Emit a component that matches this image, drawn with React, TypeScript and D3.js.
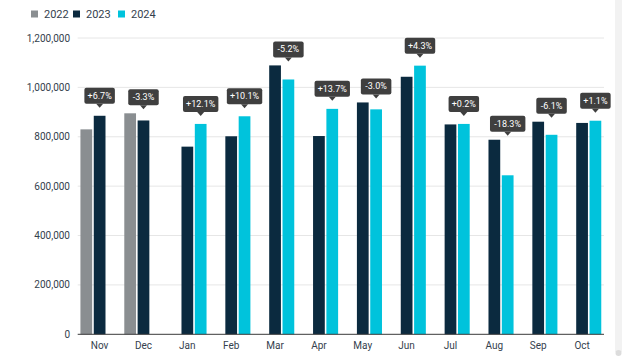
import React from "react";
import * as d3 from "d3";

const months = ["Nov", "Dec", "Jan", "Feb", "Mar", "Apr", "May", "Jun", "Jul", "Aug", "Sep", "Oct"];
const seriesNames = ["2022", "2023", "2024"];
const values2022: (number | null)[] = [830000, 895000, null, null, null, null, null, null, null, null, null, null];
const values2023: (number | null)[] = [885000, 866000, 760000, 802000, 1089000, 803000, 939000, 1043000, 850000, 788000, 861000, 856000];
const values2024: (number | null)[] = [null, null, 852000, 883000, 1032000, 913000, 911000, 1088000, 852000, 644000, 808000, 865000];
const changeLabels = ["+6.7%", "-3.3%", "+12.1%", "+10.1%", "-5.2%", "+13.7%", "-3.0%", "+4.3%", "+0.2%", "-18.3%", "-6.1%", "+1.1%"];
const yTicks = [0, 200000, 400000, 600000, 800000, 1000000, 1200000];

const colors: Record<string, string> = { "2022": "#8a8e91", "2023": "#0b2a3f", "2024": "#00c3dc" };
const seriesValues: Record<string, (number | null)[]> = { "2022": values2022, "2023": values2023, "2024": values2024 };

export default function App() {
  const W = 640, H = 360;
  const left = 77.7, right = 604, top = 38, bottom = 334.3;
  const x = d3.scaleBand<string>().domain(months).range([left, right]).padding(0);
  const xs = d3.scaleBand<string>().domain(seriesNames).range([-20, 20]).paddingInner(0.12).paddingOuter(0.06);
  const y = d3.scaleLinear().domain([0, 1200000]).range([bottom, top]);
  const fmt = d3.format(",");
  const font = "Roboto, 'Noto Sans', sans-serif";
  const textColor = "#34414d";

  const labelData = months.map((m, i) => {
    const anchorSeries = values2024[i] != null ? "2024" : "2023";
    const cx = (x(m) as number) + x.bandwidth() / 2 + (xs(anchorSeries) as number) + xs.bandwidth() / 2;
    const anchorVal = seriesValues[anchorSeries][i] as number;
    const maxVal = d3.max(seriesNames.map((s) => seriesValues[s][i] ?? 0)) as number;
    const tip = Math.min(y(anchorVal) - 8, y(maxVal) - 4);
    return { m, cx, tip, text: changeLabels[i] };
  });

  return (
    <svg width={W} height={H} style={{ position: "absolute", left: 0, top: 0, fontFamily: font }}>
      <rect x={0} y={0} width={W} height={H} fill="#ffffff" />
      {/* scrollbar strip */}
      <rect x={615} y={0} width={7} height={352} fill="#f2f2f2" />
      <circle cx={618.5} cy={353} r={3} fill="#dcdcdc" />
      {/* legend */}
      {seriesNames.map((s, i) => {
        const lx = [31, 73, 118][i];
        return (
          <g key={s}>
            <rect x={lx} y={10.5} width={7} height={7} fill={colors[s]} />
            <text x={lx + 13} y={18} fontSize={11} fill={textColor}>{s}</text>
          </g>
        );
      })}
      {/* grid */}
      {yTicks.map((t) => (
        <g key={t}>
          {t > 0 && <line x1={left} x2={right} y1={y(t)} y2={y(t)} stroke="#e6e6e6" strokeWidth={1} />}
          <text x={70} y={y(t) + 3.5} fontSize={10} textAnchor="end" fill={textColor}>{fmt(t)}</text>
        </g>
      ))}
      {/* bars */}
      {months.map((m, i) =>
        seriesNames.map((s) => {
          const v = seriesValues[s][i];
          if (v == null) return null;
          const bx = (x(m) as number) + x.bandwidth() / 2 + (xs(s) as number);
          return <rect key={m + s} x={bx} y={y(v)} width={xs.bandwidth()} height={y(0) - y(v)} fill={colors[s]} />;
        })
      )}
      {/* axis */}
      <line x1={left} x2={right} y1={bottom} y2={bottom} stroke="#3a3a3a" strokeWidth={1} />
      {months.map((m) => (
        <text key={m} x={(x(m) as number) + x.bandwidth() / 2} y={349} fontSize={10} textAnchor="middle" fill={textColor}>{m}</text>
      ))}
      {/* change labels */}
      {labelData.map((d) => {
        const w = d.text.length * 4.9 + 6;
        const bh = 16;
        const by = d.tip - 4 - bh;
        return (
          <g key={d.m}>
            <rect x={d.cx - w / 2} y={by} width={w} height={bh} rx={2} fill="#3f3f3f" />
            <path d={`M${d.cx - 3.5},${by + bh} L${d.cx},${d.tip} L${d.cx + 3.5},${by + bh} Z`} fill="#3f3f3f" />
            <text x={d.cx} y={by + 11} fontSize={9} textAnchor="middle" fill="#ffffff">{d.text}</text>
          </g>
        );
      })}
    </svg>
  );
}
